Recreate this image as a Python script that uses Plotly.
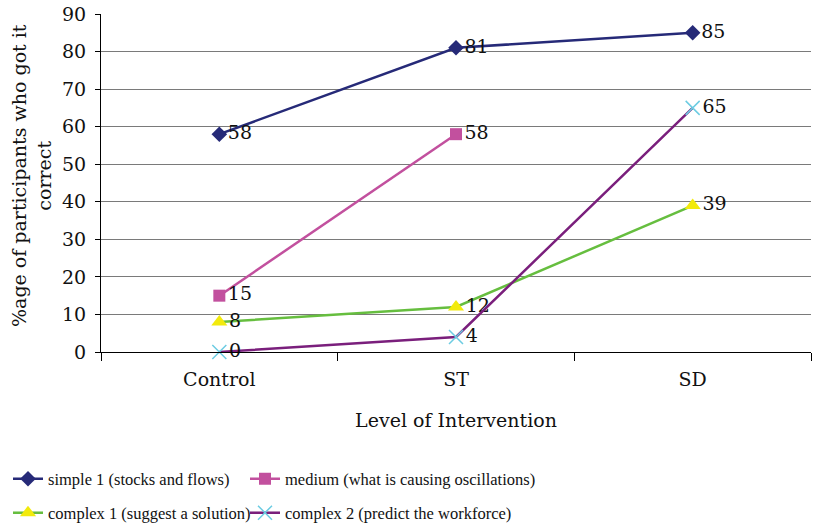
import plotly.graph_objects as go

categories = ["Control", "ST", "SD"]
simple1 = [58, 81, 85]
medium = [15, 58, None]
complex1 = [8, 12, 39]
complex2 = [0, 4, 65]

series_names = [
    "simple 1 (stocks and flows)",
    "medium (what is causing oscillations)",
    "complex 1 (suggest a solution)",
    "complex 2 (predict the workforce)",
]
y_title = "%age of participants who got it<br>correct"
x_title = "Level of Intervention"

FONT = "DejaVu Serif"
LFONT = "Liberation Serif"
fs = 19
W, H = 829, 527
ML, MR, MT, MB = 101, 18, 14, 175

fig = go.Figure()

def add(name, vals, line_color, marker_color, symbol, msize, legend, mline=None):
    fig.add_trace(go.Scatter(
        x=categories, y=vals, name=name,
        mode="lines+markers+text",
        text=[("" if v is None else str(v)) for v in vals],
        textposition="middle right",
        textfont=dict(family=FONT, size=fs, color="#111111"),
        line=dict(color=line_color, width=2.5),
        marker=dict(color=marker_color, symbol=symbol, size=msize,
                    line=mline if mline else dict(width=0)),
        connectgaps=False,
        cliponaxis=False,
        legend=legend,
    ))

add(series_names[0], simple1, "#262A78", "#262A78", "diamond", 12, "legend")
add(series_names[1], medium, "#C2509E", "#C2509E", "square", 12, "legend2")
add(series_names[2], complex1, "#66BE3F", "#F2EA0C", "triangle-up", 14, "legend3")
add(series_names[3], complex2, "#7A1F7C", "#6CCCE2", "x-thin", 14, "legend4",
    dict(color="#6CCCE2", width=1.5))

def leg(xpix, ypix):
    return dict(
        xref="container", yref="container",
        x=xpix / W, xanchor="left",
        y=1 - ypix / H, yanchor="middle",
        font=dict(family=LFONT, size=16.5, color="#111111"),
        itemwidth=30, bgcolor="rgba(0,0,0,0)", borderwidth=0,
    )

row1, row2 = 479, 513
col1, col2 = 8, 245

plot_w = W - ML - MR
plot_h = H - MT - MB

fig.update_layout(
    width=W, height=H,
    margin=dict(l=ML, r=MR, t=MT, b=MB, autoexpand=False),
    paper_bgcolor="white", plot_bgcolor="white",
    font=dict(family=FONT, size=fs, color="#111111"),
    showlegend=True,
    legend=leg(col1, row1),
    legend2=leg(col2, row1),
    legend3=leg(col1, row2),
    legend4=leg(col2, row2),
    xaxis=dict(
        range=[-0.5, 2.5],
        showline=True, linecolor="black", linewidth=1,
        ticks="outside", ticklen=8, tickcolor="black",
        tickson="boundaries", showgrid=False,
        ticklabelstandoff=10,
        tickfont=dict(family=FONT, size=fs),
        title=dict(text=x_title, font=dict(family=FONT, size=fs), standoff=24),
    ),
    yaxis=dict(
        range=[0, 90], dtick=10, tick0=0,
        showline=True, linecolor="black", linewidth=1,
        ticks="outside", ticklen=5, tickcolor="black",
        showgrid=True, gridcolor="#7a7a7a", gridwidth=1,
        zeroline=False,
        ticklabeloverflow="allow",
        ticklabelstandoff=5,
        tickfont=dict(family=FONT, size=fs),
    ),
    annotations=[dict(
        text=y_title, textangle=-90, showarrow=False,
        xref="paper", yref="paper",
        x=(31 - ML) / plot_w, y=(H - MB - 176) / plot_h,
        xanchor="center", yanchor="middle",
        font=dict(family=FONT, size=fs, color="#111111"),
    )],
)

fig.write_html("out.html", config={"displayModeBar": False},
               post_script="document.body.style.margin='0';")
